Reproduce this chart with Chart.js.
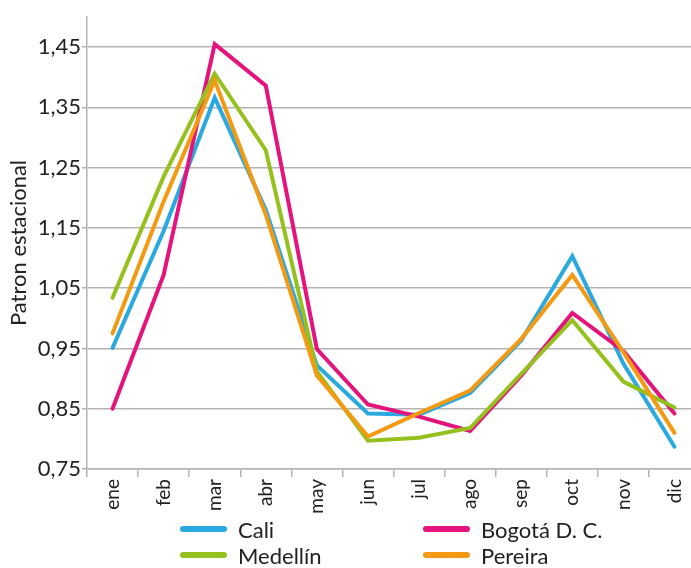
<!DOCTYPE html>
<html>
<head>
<meta charset="utf-8">
<script src="https://cdn.jsdelivr.net/npm/chart.js@4.4.1/dist/chart.umd.min.js"></script>
<style>
  html, body { margin: 0; padding: 0; background: #fff; overflow: hidden; }
  #wrap { position: relative; width: 691px; height: 568px; overflow: hidden; }
  #grafico { position: absolute; left: 0; top: 0; }
  #leyenda { position: absolute; left: 180px; top: 518px; display: grid;
    grid-template-columns: 243px 200px; row-gap: 4px;
    font-family: Lato, "Noto Sans", sans-serif; font-size: 22px; color: #222; }
  .item { display: flex; align-items: center; height: 22px; }
  .linea { width: 47px; height: 6px; border-radius: 3px; margin-right: 11px; }
</style>
</head>
<body>
<div id="wrap">
  <canvas id="grafico" width="710" height="517"></canvas>
  <div id="leyenda"></div>
</div>
<script>
// Meses y patrón estacional por ciudad
const meses = ["ene", "feb", "mar", "abr", "may", "jun", "jul", "ago", "sep", "oct", "nov", "dic"];
const cali = [0.951, 1.145, 1.366, 1.180, 0.922, 0.842, 0.840, 0.876, 0.963, 1.103, 0.925, 0.787];
const bogota = [0.850, 1.072, 1.455, 1.386, 0.949, 0.857, 0.837, 0.813, 0.905, 1.009, 0.946, 0.842];
const medellin = [1.034, 1.235, 1.406, 1.279, 0.912, 0.797, 0.802, 0.818, 0.908, 0.997, 0.895, 0.852];
const pereira = [0.975, 1.194, 1.395, 1.172, 0.905, 0.804, 0.843, 0.880, 0.966, 1.072, 0.944, 0.810];
const ticksY = [0.75, 0.85, 0.95, 1.05, 1.15, 1.25, 1.35, 1.45];

const fuente = "Lato, 'Noto Sans', sans-serif";
const gris = "#b3b3b3";

function serie(label, data, color, order) {
  return {
    label: label,
    data: data,
    borderColor: color,
    backgroundColor: color,
    borderWidth: 4,
    pointRadius: 0,
    tension: 0,
    fill: false,
    borderCapStyle: "round",
    order: order,
  };
}

const ciudades = [
  serie("Cali", cali, "#2aa9e0", 4),
  serie("Bogotá D. C.", bogota, "#e4147c", 3),
  serie("Medellín", medellin, "#95c11f", 2),
  serie("Pereira", pereira, "#f39a12", 1),
];

const ctx = document.getElementById("grafico").getContext("2d");
const chart = new Chart(ctx, {
  type: "line",
  data: { labels: meses, datasets: ciudades },
  options: {
    responsive: false,
    animation: false,
    layout: { padding: { top: 17, right: 10, left: 0, bottom: 0 } },
    plugins: { legend: { display: false }, tooltip: { enabled: false } },
    scales: {
      x: {
        offset: true,
        grid: { offset: true, drawOnChartArea: false, drawTicks: true, tickLength: 8, color: gris, lineWidth: 1.5 },
        border: { color: gris, width: 1.5 },
        ticks: { maxRotation: 90, minRotation: 90, padding: 2, color: "#222", autoSkip: false, font: { family: fuente, size: 19 } },
        afterFit: (s) => { s.height = 48; },
      },
      y: {
        min: 0.75,
        max: 1.5,
        afterBuildTicks: (s) => { s.ticks = ticksY.map((v) => ({ value: v })); },
        grid: { color: gris, lineWidth: 1.5, tickLength: 5 },
        border: { color: gris, width: 1.5 },
        ticks: {
          padding: 1,
          color: "#222",
          font: { family: fuente, size: 22 },
          callback: (v) => v.toFixed(2).replace(".", ","),
        },
        title: { display: true, text: "Patron estacional", color: "#222", padding: { top: 6, bottom: 0 }, font: { family: fuente, size: 22 } },
        afterFit: (s) => { s.width = 87; },
      },
    },
  },
});

// Leyenda en dos columnas
const leyenda = document.getElementById("leyenda");
chart.data.datasets.forEach((ds) => {
  const item = document.createElement("div");
  item.className = "item";
  item.innerHTML = '<span class="linea" style="background:' + ds.borderColor + '"></span>' + ds.label;
  leyenda.appendChild(item);
});
</script>
</body>
</html>
